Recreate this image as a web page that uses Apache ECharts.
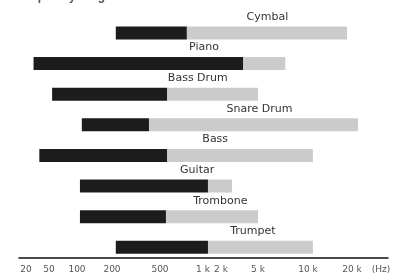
<!DOCTYPE html>
<html>
<head>
    <meta charset="utf-8">
    <title>Instrument frequency ranges</title>
    <script src="https://cdn.jsdelivr.net/npm/echarts@6/dist/echarts.min.js"></script>
    <style type="text/css">
        html, body { margin: 0; padding: 0; background: #fff; }
        #chart { width: 399px; height: 279px; }
    </style>
</head>
<body>
<div id="chart"></div>
<script>
    // instruments, top to bottom
    var instruments = ['Cymbal', 'Piano', 'Bass Drum', 'Snare Drum', 'Bass', 'Guitar', 'Trombone', 'Trumpet'];
    // fundamental range: lowHz -> midHz (black), harmonics: midHz -> highHz (grey)
    var lowHz = [215, 27, 54, 110, 34, 106, 106, 215];
    var midHz = [770, 3450, 560, 405, 560, 1210, 550, 1210];
    var highHz = [18500, 7300, 5000, 22000, 10800, 2630, 5000, 10800];
    // where each name sits along the axis
    var labelHz = [5700, 1040, 920, 5100, 1600, 910, 1950, 4400];

    // tick labels of the (non uniform) frequency axis
    var tickHz = [20, 50, 100, 200, 500, 1000, 2000, 5000, 10000, 20000];
    var tickLabels = ['20', '50', '100', '200', '500', '1 k', '2 k', '5 k', '10 k', '20 k'];
    // scale: axis units for each tick (the drawn axis is not a plain log scale)
    var tickPos = [26, 49, 77, 112, 160, 203, 221, 258, 308, 352];

    function hzToPos(hz) {
        var i = 0;
        while (i < tickHz.length - 2 && hz > tickHz[i + 1]) i++;
        var h0 = tickHz[i], h1 = tickHz[i + 1];
        var p0 = tickPos[i], p1 = tickPos[i + 1];
        return p0 + (Math.log(hz) - Math.log(h0)) / (Math.log(h1) - Math.log(h0)) * (p1 - p0);
    }

    var rows = instruments.map(function (name, i) {
        return [hzToPos(lowHz[i]), hzToPos(midHz[i]), hzToPos(highHz[i]), i, hzToPos(labelHz[i])];
    });

    var chart = echarts.init(document.getElementById('chart'));
    var option = {
        animation: false,
        title: {
            text: 'Frequency ranges',
            left: 10,
            top: -14,
            textStyle: { fontSize: 12, fontWeight: 'bold', color: '#555', fontFamily: 'Liberation Sans' }
        },
        grid: { left: 19, right: 11, top: 33, bottom: 21 },
        xAxis: {
            type: 'value',
            position: 'bottom',
            min: 19,
            max: 388,
            axisLine: { show: true, onZero: false, lineStyle: { color: '#111', width: 1.5 } },
            axisTick: { show: false },
            splitLine: { show: false },
            axisLabel: {
                customValues: tickPos,
                margin: 7,
                fontSize: 9,
                fontFamily: 'DejaVu Sans',
                color: '#555',
                formatter: function (v) {
                    var k = tickPos.indexOf(v);
                    return k >= 0 ? tickLabels[k] : '';
                }
            },
            name: '(Hz)',
            nameLocation: 'end',
            nameGap: -7,
            nameTextStyle: {
                fontSize: 9,
                fontFamily: 'DejaVu Sans',
                color: '#555',
                align: 'center',
                verticalAlign: 'top',
                padding: [7, 0, 0, 0]
            }
        },
        yAxis: {
            type: 'value',
            inverse: true,
            min: 0,
            max: 7.35,
            show: false
        },
        series: [{
            type: 'custom',
            data: rows,
            encode: { x: [0, 1, 2], y: 3 },
            renderItem: function (params, api) {
                var row = api.value(3);
                var a = api.coord([api.value(0), row]);
                var b = api.coord([api.value(1), row]);
                var c = api.coord([api.value(2), row]);
                var l = api.coord([api.value(4), row]);
                var h = 13;
                return {
                    type: 'group',
                    children: [
                        {
                            type: 'rect',
                            shape: { x: b[0], y: b[1] - h / 2, width: c[0] - b[0], height: h },
                            style: { fill: '#cbcbcb' }
                        },
                        {
                            type: 'rect',
                            shape: { x: a[0], y: a[1] - h / 2, width: b[0] - a[0], height: h },
                            style: { fill: '#1c1c1c' }
                        },
                        {
                            type: 'text',
                            x: l[0],
                            y: l[1] - 16,
                            style: {
                                text: instruments[params.dataIndex],
                                textAlign: 'center',
                                textVerticalAlign: 'middle',
                                fill: '#333',
                                font: '11px "DejaVu Sans"'
                            }
                        }
                    ]
                };
            }
        }]
    };
    chart.setOption(option);
</script>
</body>
</html>
